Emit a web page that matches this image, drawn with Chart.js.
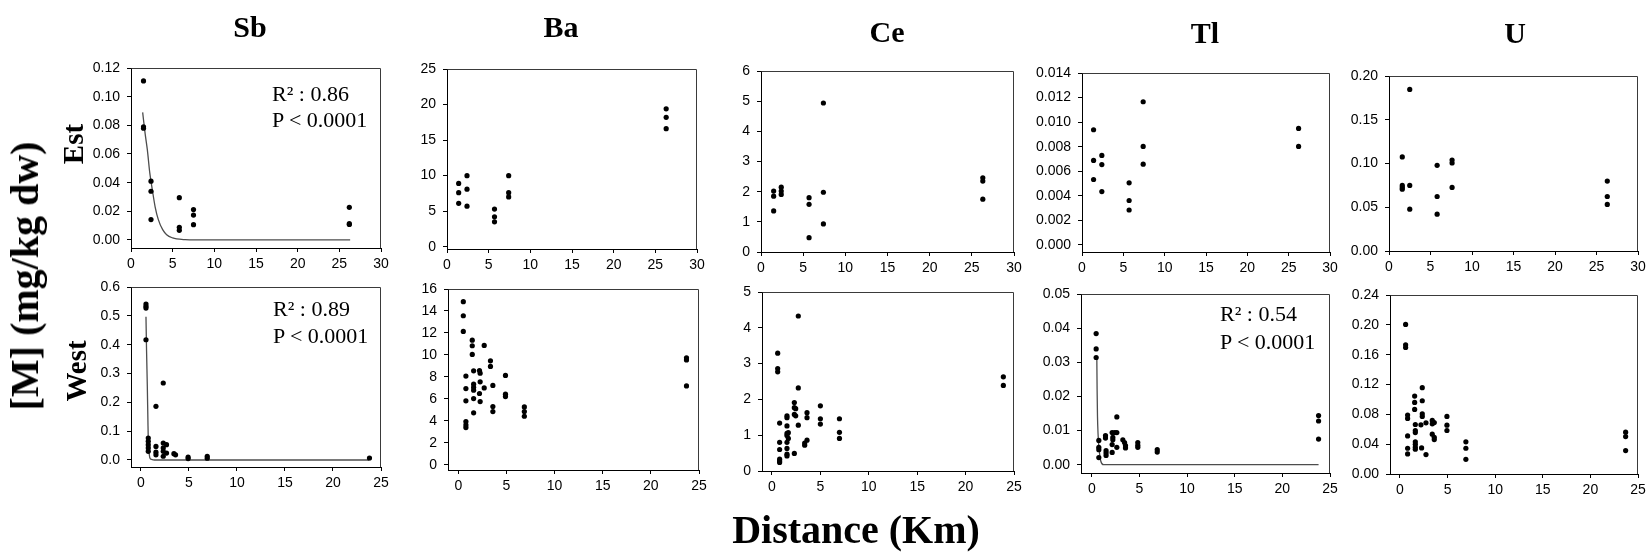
<!DOCTYPE html>
<html><head><meta charset="utf-8">
<script src="https://cdn.jsdelivr.net/npm/chart.js@4/dist/chart.umd.min.js"></script>
<style>
html,body{margin:0;padding:0;background:#fff;}
#wrap{position:relative;width:1652px;height:552px;overflow:hidden;background:#fff;}
canvas.pc{position:absolute;left:0;top:0;}
.t{position:absolute;font-family:"Liberation Serif","Times New Roman",serif;color:#000;white-space:nowrap;line-height:1;}
.b{font-weight:bold;}
</style></head><body><div id="wrap"></div>
<script>
// ---------- data ----------
const elements = ['Sb','Ba','Ce','Tl','U'];
const rowNames = ['Est','West'];
const yAxisTitle = '[M] (mg/kg dw)';
const xAxisTitle = 'Distance (Km)';
const xTicksEst = [0,5,10,15,20,25,30];
const xTicksWest = [0,5,10,15,20,25];
const yTicksSbEst = [0,0.02,0.04,0.06,0.08,0.10,0.12];
const yTicksBaEst = [0,5,10,15,20,25];
const yTicksCeEst = [0,1,2,3,4,5,6];
const yTicksTlEst = [0,0.002,0.004,0.006,0.008,0.010,0.012,0.014];
const yTicksUEst = [0,0.05,0.10,0.15,0.20];
const yTicksSbWest = [0,0.1,0.2,0.3,0.4,0.5,0.6];
const yTicksBaWest = [0,2,4,6,8,10,12,14,16];
const yTicksCeWest = [0,1,2,3,4,5];
const yTicksTlWest = [0,0.01,0.02,0.03,0.04,0.05];
const yTicksUWest = [0,0.04,0.08,0.12,0.16,0.20,0.24];

const sbEst = [[1.5,0.111],[1.5,0.079],[1.5,0.078],[2.4,0.041],[2.4,0.034],[2.4,0.0142],[5.8,0.0295],[5.8,0.0088],[5.8,0.0067],[7.5,0.0212],[7.5,0.0174],[7.5,0.0107],[26.2,0.0228],[26.2,0.0114],[26.2,0.0108]];
const sbEstFit = [[1.4,0.089],[1.7,0.074],[1.96,0.063],[2.25,0.047],[2.56,0.035],[2.9,0.023],[3.28,0.0142],[3.8,0.0072],[4.28,0.0037],[5.0,0.0014],[5.48,0.0007],[6.5,0.0002],[7.5,0],[26.3,0]];
const baEst = [[1.4,8.9],[1.4,7.6],[1.4,6.1],[2.4,10.0],[2.4,8.1],[2.4,5.7],[5.7,5.3],[5.7,4.2],[5.7,3.5],[7.4,10.0],[7.4,7.6],[7.4,7.0],[26.3,19.4],[26.3,18.2],[26.3,16.6]];
const ceEst = [[1.5,2.02],[1.5,1.85],[1.5,1.36],[2.4,2.15],[2.4,2.02],[2.4,1.91],[5.7,1.80],[5.7,1.58],[5.7,0.475],[7.4,4.94],[7.4,1.98],[7.4,0.93],[26.3,2.46],[26.3,2.35],[26.3,1.75]];
const tlEst = [[1.4,0.00938],[1.4,0.00688],[1.4,0.00533],[2.4,0.00729],[2.4,0.00655],[2.4,0.00435],[5.7,0.00506],[5.7,0.00362],[5.7,0.00285],[7.4,0.01166],[7.4,0.00802],[7.4,0.00658],[26.2,0.00949],[26.2,0.00802]];
const uEst = [[1.6,0.1075],[1.6,0.075],[1.6,0.0727],[1.6,0.0707],[2.5,0.1847],[2.5,0.075],[2.5,0.0478],[5.8,0.0979],[5.8,0.0623],[5.8,0.0421],[7.6,0.104],[7.6,0.1006],[7.6,0.0727],[26.3,0.0799],[26.3,0.0623],[26.3,0.0532]];

const sbWest = [[0.52,0.541],[0.52,0.533],[0.52,0.527],[0.52,0.417],[0.76,0.076],[0.76,0.065],[0.76,0.053],[0.76,0.042],[0.76,0.030],[1.56,0.186],[1.56,0.047],[1.56,0.027],[1.56,0.018],[2.32,0.267],[2.32,0.059],[2.32,0.042],[2.32,0.030],[2.32,0.013],[2.66,0.053],[2.66,0.024],[3.43,0.022],[3.6,0.018],[4.91,0.010],[4.91,0.005],[6.9,0.013],[6.9,0.006],[23.8,0.007]];
const sbWestFit = [[0.52,0.497],[0.58,0.38],[0.66,0.255],[0.72,0.14],[0.76,0.07],[0.82,0.035],[0.93,0.007],[1.1,0.002],[1.4,0],[23.8,0]];
const baWest = [[0.52,14.85],[0.52,13.57],[0.52,12.14],[0.79,8.08],[0.79,6.95],[0.79,5.83],[0.79,3.95],[0.79,3.64],[0.79,3.40],[1.45,11.35],[1.45,10.84],[1.45,10.05],[1.59,8.56],[1.59,7.35],[1.59,7.07],[1.59,6.80],[1.59,6.04],[1.59,4.74],[2.2,8.59],[2.27,8.35],[2.27,7.56],[2.2,6.50],[2.27,5.77],[2.69,10.87],[2.69,7.01],[3.34,9.47],[3.34,8.96],[3.59,7.23],[3.59,5.31],[3.59,4.86],[4.9,8.14],[4.9,6.44],[4.9,6.22],[6.86,5.28],[6.86,4.86],[6.86,4.43],[23.7,9.75],[23.7,9.55],[23.7,7.19]];
const ceWest = [[0.59,3.29],[0.59,2.86],[0.59,2.77],[0.79,1.34],[0.79,0.80],[0.79,0.60],[0.79,0.33],[0.79,0.28],[0.79,0.24],[1.55,1.54],[1.55,1.49],[1.55,1.26],[1.55,1.05],[1.55,0.99],[1.55,0.80],[1.55,0.63],[1.55,0.47],[1.55,0.42],[1.69,1.07],[1.69,0.91],[2.31,1.91],[2.31,1.77],[2.31,1.58],[2.31,0.49],[2.45,1.74],[2.45,1.54],[2.72,4.33],[2.72,2.32],[2.72,1.28],[3.38,0.78],[3.38,0.72],[3.62,0.86],[3.62,1.63],[3.62,1.49],[5.0,1.82],[5.0,1.46],[5.0,1.31],[6.97,1.46],[6.97,1.08],[6.97,0.91],[23.9,2.63],[23.9,2.39]];
const tlWest = [[0.46,0.0384],[0.46,0.0339],[0.46,0.0314],[0.74,0.0071],[0.74,0.0051],[0.74,0.0044],[0.74,0.0021],[1.44,0.0085],[1.44,0.0078],[1.5,0.0041],[1.5,0.0034],[1.5,0.0027],[2.14,0.0094],[2.21,0.0080],[2.21,0.0073],[2.14,0.0059],[2.14,0.0036],[2.63,0.0140],[2.42,0.0094],[2.63,0.0094],[2.63,0.0051],[3.26,0.0073],[3.44,0.0065],[3.54,0.0056],[3.54,0.0049],[4.83,0.0065],[4.83,0.0057],[4.83,0.0051],[6.87,0.0044],[6.87,0.0037],[23.8,0.0144],[23.8,0.0128],[23.8,0.0075]];
const tlWestFit = [[0.53,0.0313],[0.56,0.022],[0.6,0.0142],[0.66,0.009],[0.74,0.0054],[0.85,0.0025],[0.95,0.001],[1.23,0],[23.8,0]];
const uWest = [[0.59,0.2005],[0.59,0.1732],[0.59,0.1696],[0.8,0.079],[0.8,0.0745],[0.8,0.0511],[0.8,0.0345],[0.8,0.0269],[1.54,0.1045],[1.54,0.096],[1.54,0.0866],[1.61,0.0664],[1.61,0.0583],[1.61,0.0556],[1.61,0.0431],[1.61,0.0399],[1.61,0.0359],[1.61,0.0332],[2.34,0.1157],[2.34,0.0982],[2.34,0.0808],[2.34,0.0772],[2.2,0.066],[2.27,0.035],[2.73,0.0686],[2.73,0.026],[3.39,0.0718],[3.39,0.0673],[3.39,0.0534],[3.6,0.069],[3.6,0.0493],[3.6,0.0462],[4.93,0.0772],[4.93,0.0655],[4.93,0.0583],[6.92,0.0431],[6.92,0.0345],[6.92,0.0197],[23.7,0.0561],[23.7,0.0502],[23.7,0.0314]];

const stats = [
  {panel:0, r2:'0.86', p:'P < 0.0001'},
  {panel:5, r2:'0.89', p:'P < 0.0001'},
  {panel:8, r2:'0.54', p:'P < 0.0001'}
];

// ---------- layout ----------
const W = 1652, H = 552;
const panels = [
  {data:sbEst, fit:sbEstFit, xt:xTicksEst, yt:yTicksSbEst, dec:2, box:[131,68,381,248], y:[-0.0056,0.12], x:[0,30]},
  {data:baEst, xt:xTicksEst, yt:yTicksBaEst, dec:0, box:[447,69,697,249], y:[-0.32,25], x:[0,30]},
  {data:ceEst, xt:xTicksEst, yt:yTicksCeEst, dec:0, box:[761,71,1014,252], y:[0,6], x:[0,30]},
  {data:tlEst, xt:xTicksEst, yt:yTicksTlEst, dec:3, box:[1082,73,1330,252], y:[-0.00057,0.014], x:[0,30]},
  {data:uEst, xt:xTicksEst, yt:yTicksUEst, dec:2, box:[1389,76,1638,251], y:[0,0.2], x:[0,30]},
  {data:sbWest, fit:sbWestFit, xt:xTicksWest, yt:yTicksSbWest, dec:1, box:[131,287,381,467], y:[-0.0243,0.6], x:[-1.04,25]},
  {data:baWest, xt:xTicksWest, yt:yTicksBaWest, dec:0, box:[448,289,699,470], y:[-0.455,16], x:[-1.07,25]},
  {data:ceWest, xt:xTicksWest, yt:yTicksCeWest, dec:0, box:[762,292,1014,471], y:[0,5], x:[-1.03,25]},
  {data:tlWest, fit:tlWestFit, xt:xTicksWest, yt:yTicksTlWest, dec:2, box:[1081,294,1330,473], y:[-0.00243,0.05], x:[-1.13,25]},
  {data:uWest, xt:xTicksWest, yt:yTicksUWest, dec:2, box:[1390,295,1638,474], y:[0,0.24], x:[-1.05,25]}
];
const YW = 60, XH = 30;
const wrap = document.getElementById('wrap');

const framePlugin = {
  id:'frame',
  afterDraw(chart){
    const a = chart.chartArea, c = chart.ctx;
    c.save();
    c.strokeStyle = '#3a3a3a'; c.lineWidth = 1;
    c.beginPath();
    c.moveTo(a.left+0.5, a.top+0.5);
    c.lineTo(a.right-0.5, a.top+0.5);
    c.lineTo(a.right-0.5, a.bottom);
    c.stroke();
    c.restore();
  }
};

panels.forEach((p, i) => {
  const cv = document.createElement('canvas');
  cv.className = 'pc'; cv.width = W; cv.height = H;
  cv.style.width = W+'px'; cv.style.height = H+'px';
  wrap.appendChild(cv);
  const [L,T,R,B] = p.box;
  const datasets = [{
    data: p.data.map(d => ({x:d[0], y:d[1]})),
    pointRadius: 2.6, pointBackgroundColor:'#000', pointBorderWidth:0, showLine:false, order:1
  }];
  if (p.fit) datasets.push({
    data: p.fit.map(d => ({x:d[0], y:d[1]})),
    showLine:true, pointRadius:0, borderColor:'#4d4d4d', borderWidth:1.3,
    cubicInterpolationMode:'monotone', order:2
  });
  const tickFont = {family:'"Liberation Sans", Arial, sans-serif', size:14};
  new Chart(cv, {
    type:'scatter',
    data:{datasets},
    options:{
      responsive:false, animation:false, devicePixelRatio:1,
      events:[],
      layout:{padding:{left:L-YW, top:T, right:W-R, bottom:H-B-XH}},
      plugins:{legend:{display:false}, tooltip:{enabled:false}},
      scales:{
        x:{type:'linear', min:p.x[0], max:p.x[1],
          afterBuildTicks: s => { s.ticks = p.xt.map(v => ({value:v})); },
          afterFit: s => { s.height = XH; },
          grid:{display:true, drawOnChartArea:false, drawTicks:true, tickLength:4, color:'#000', lineWidth:1},
          border:{display:true, color:'#000', width:1},
          ticks:{font:tickFont, color:'#000', padding:4, maxRotation:0, autoSkip:false, callback:v => String(v)}
        },
        y:{type:'linear', min:p.y[0], max:p.y[1],
          afterBuildTicks: s => { s.ticks = p.yt.map(v => ({value:v})); },
          afterFit: s => { s.width = YW; },
          grid:{display:true, drawOnChartArea:false, drawTicks:true, tickLength:4, color:'#000', lineWidth:1},
          border:{display:true, color:'#000', width:1},
          ticks:{font:tickFont, color:'#000', padding:7, autoSkip:false, callback:v => Number(v).toFixed(p.dec)}
        }
      }
    },
    plugins:[framePlugin]
  });
});

// ---------- text ----------
function addText(txt, opts){
  const d = document.createElement('div');
  d.className = 't' + (opts.bold ? ' b' : '');
  d.textContent = txt;
  d.style.fontSize = opts.size + 'px';
  wrap.appendChild(d);
  if (opts.rot) {
    d.style.left = opts.cx + 'px'; d.style.top = opts.cy + 'px';
    d.style.transform = 'translate(-50%,-50%) rotate(-90deg)';
  } else {
    const top = opts.base - 0.8375*opts.size;
    d.style.top = top + 'px';
    if (opts.center !== undefined) { d.style.left = opts.center + 'px'; d.style.transform = 'translateX(-50%)'; }
    else d.style.left = opts.left + 'px';
  }
  return d;
}
const titlePos = [[250,37],[561,37],[887,42],[1205,43],[1515,43]];
elements.forEach((e,i) => addText(e, {bold:true, size:30, center:titlePos[i][0], base:titlePos[i][1]}));
addText(xAxisTitle, {bold:true, size:40, center:856, base:543});
addText(yAxisTitle, {bold:true, size:40, rot:true, cx:25, cy:276});
addText(rowNames[0], {bold:true, size:29, rot:true, cx:73, cy:144});
addText(rowNames[1], {bold:true, size:29, rot:true, cx:76, cy:371});

const statPos = {0:[272,101,127.7], 5:[273,316.7,343.3], 8:[1220,321.7,349.3]};
stats.forEach(s => {
  const [x,b1,b2] = statPos[s.panel];
  addText('R\u00B2 : ' + s.r2, {size:22, left:x, base:b1});
  addText(s.p, {size:22, left:x, base:b2});
});
</script>
</body></html>
